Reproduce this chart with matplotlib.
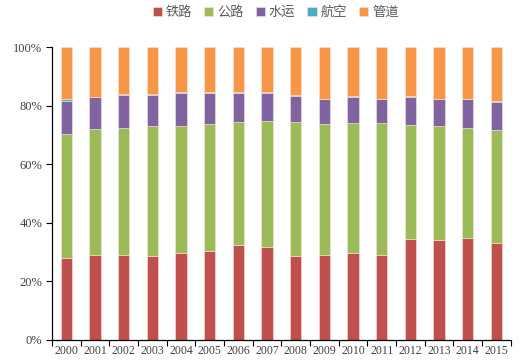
import matplotlib
matplotlib.use("Agg")
import matplotlib.pyplot as plt
import numpy as np
from matplotlib.ticker import FuncFormatter, FixedLocator
from matplotlib import font_manager

years = ["2000","2001","2002","2003","2004","2005","2006","2007",
         "2008","2009","2010","2011","2012","2013","2014","2015"]
series_names = ["铁路", "公路", "水运", "航空", "管道"]
rail  = [27.9, 29.0, 29.0, 28.6, 29.7, 30.5, 32.5, 31.7, 28.6, 29.0, 29.8, 29.0, 34.4, 34.1, 34.8, 33.3]
road  = [42.5, 43.0, 43.5, 44.4, 43.3, 43.2, 42.1, 43.2, 46.0, 44.7, 44.3, 45.1, 39.0, 38.9, 37.7, 38.5]
water = [11.4, 11.0, 11.2, 10.7, 11.3, 10.6, 9.9, 9.6, 8.8, 8.6, 8.9, 8.2, 9.7, 9.2, 9.7, 9.6]
air   = [0.4, 0.2, 0.3, 0.3, 0.3, 0.3, 0.4, 0.4, 0.2, 0.2, 0.3, 0.2, 0.4, 0.2, 0.2, 0.2]
pipe  = [100 - (a + b + c + d) for a, b, c, d in zip(rail, road, water, air)]
colors = ["#C0504D", "#9BBB59", "#8064A2", "#4BACC6", "#F79646"]

available = {f.name for f in font_manager.fontManager.ttflist}
serif = "Liberation Serif" if "Liberation Serif" in available else "DejaVu Serif"
print("serif:", serif, sorted(n for n in available if "Serif" in n))

plt.rcParams['font.family'] = [serif, 'Noto Sans CJK SC']

fig = plt.figure(figsize=(5.2, 3.62), dpi=100)
ax = fig.add_axes([0.1, 0.061, 0.882, 0.808])

x = np.arange(len(years))
bottom = np.zeros(len(years))
handles = []
for name, vals, c in zip(series_names, [rail, road, water, air, pipe], colors):
    v = np.array(vals) / 100.0
    h = ax.bar(x, v, width=0.4, bottom=bottom, color=c, label=name,
               edgecolor="#fbe3dc", linewidth=0.4)
    handles.append(h)
    bottom += v

ax.set_ylim(0, 1)
ax.set_xlim(-0.45, len(years) - 0.55)
ax.yaxis.set_major_locator(FixedLocator(np.arange(0, 1.01, 0.2)))
ax.yaxis.set_major_formatter(FuncFormatter(lambda v, p: f"{int(round(v*100))}%"))
ax.set_xticks(x)
ax.set_xticklabels(years)
ax.set_xticks(np.arange(-0.5, len(years)), minor=True)
ax.tick_params(axis='x', which='major', length=0, labelsize=8.5, colors="#404040", pad=4)
ax.tick_params(axis='x', which='minor', length=4, width=0.8, direction='out', color='black')
ax.tick_params(axis='y', which='major', length=4, width=0.8, direction='out', labelsize=9,
               colors="black", labelcolor="#404040", pad=3)
for lab in ax.get_xticklabels() + ax.get_yticklabels():
    lab.set_family(serif)
for s in ["top", "right"]:
    ax.spines[s].set_visible(False)
for s in ["left", "bottom"]:
    ax.spines[s].set_color("black")
    ax.spines[s].set_linewidth(0.9)

leg = fig.legend(handles=handles, labels=series_names, loc="center",
                 bbox_to_anchor=(0.53, 0.965), ncol=5, frameon=False,
                 handlelength=0.7, handleheight=0.7, handletextpad=0.3,
                 columnspacing=0.9, prop={'family': 'Noto Sans CJK SC', 'size': 9.5})
for t in leg.get_texts():
    t.set_color("#595959")

fig.savefig("out.png", dpi=100)
